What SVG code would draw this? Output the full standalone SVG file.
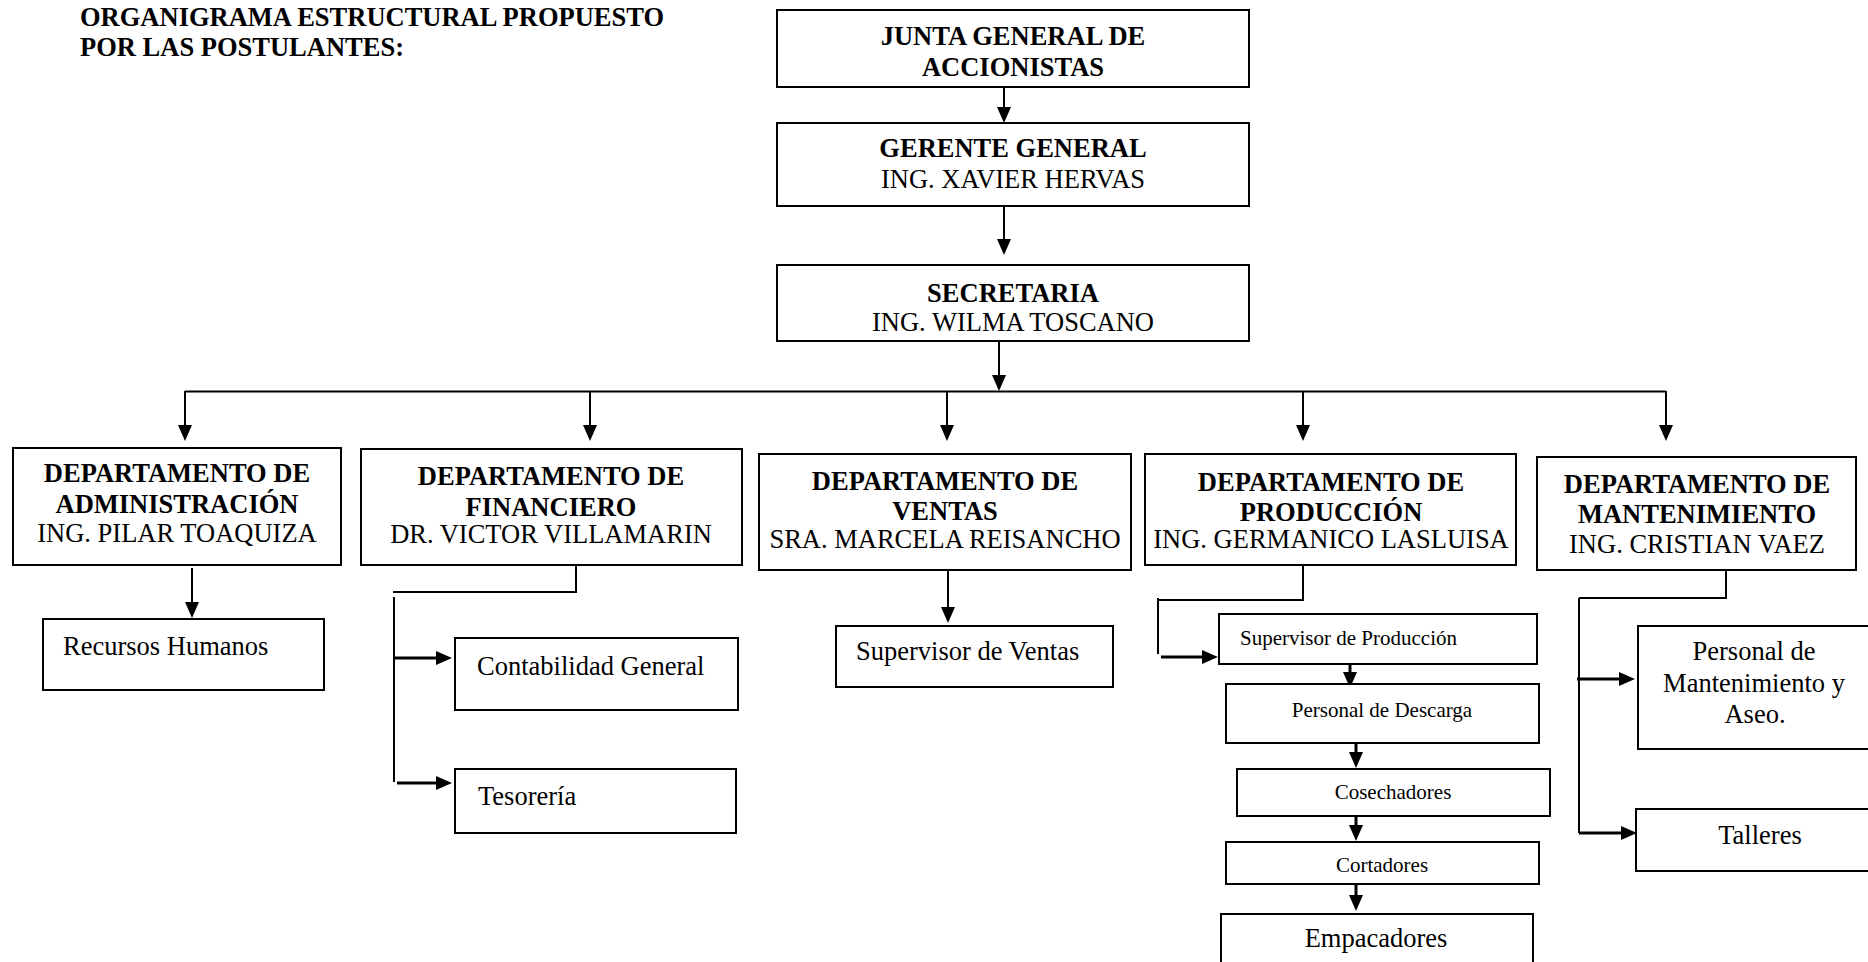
<svg xmlns="http://www.w3.org/2000/svg" width="1868" height="962" viewBox="0 0 1868 962">
<defs>
<style>
text{font-family:"Liberation Serif","Times New Roman",serif;fill:#000}
.b{font-weight:bold;font-size:26.5px}
.r{font-size:26.5px}
.s{font-size:21px}
.c{text-anchor:middle}
.box{fill:#fff;stroke:#000;stroke-width:2}
.ln{fill:none;stroke:#000;stroke-width:2}
.ar{fill:none;stroke:#000;stroke-width:2;marker-end:url(#ah)}
.ar3{fill:none;stroke:#000;stroke-width:3;marker-end:url(#ah)}
</style>
<marker id="ah" markerUnits="userSpaceOnUse" markerWidth="16" markerHeight="14" refX="0" refY="7" orient="auto">
<path d="M0,0 L16,7 L0,14 z" fill="#000"/>
</marker>
</defs>
<rect width="1868" height="962" fill="#fff"/>
<g id="title">
<text class="b" x="80" y="26">ORGANIGRAMA ESTRUCTURAL PROPUESTO</text>
<text class="b" x="80" y="56">POR LAS POSTULANTES:</text>
</g>
<g id="connectors">
<path class="ar" d="M1004 87 V107"/>
<path class="ar" d="M1004 206 V239"/>
<path class="ar" d="M999 341 V375"/>
<path class="ln" d="M185 391.5 H1666"/>
<path class="ar" d="M185 391 V425"/>
<path class="ar" d="M590 391 V425"/>
<path class="ar" d="M947 391 V425"/>
<path class="ar" d="M1303 391 V425"/>
<path class="ar" d="M1666 391 V425"/>
<path class="ar" d="M192 568 V602"/>
<path class="ln" d="M576 565 V592 H393"/>
<path class="ln" d="M394 597 V782"/>
<path class="ar3" d="M394 658 H436"/>
<path class="ar3" d="M397 783 H436"/>
<path class="ar" d="M948 570 V607"/>
<path class="ln" d="M1303 565 V600 H1158"/>
<path class="ln" d="M1158 598 V654"/>
<path class="ar3" d="M1161 657 H1202"/>
<path class="ar3" d="M1350 661 V672"/>
<path class="ar3" d="M1356 743 V752"/>
<path class="ar3" d="M1356 816 V825"/>
<path class="ar3" d="M1356 884 V895"/>
<path class="ln" d="M1726 570 V598 H1579"/>
<path class="ln" d="M1579 598 V833"/>
<path class="ar3" d="M1577 679 H1619"/>
<path class="ar3" d="M1579 833 H1621"/>
</g>
<g id="junta">
<rect class="box" x="777" y="10" width="472" height="77"/>
<text class="b c" x="1013" y="45">JUNTA GENERAL DE</text>
<text class="b c" x="1013" y="76">ACCIONISTAS</text>
</g>
<g id="gerente">
<rect class="box" x="777" y="123" width="472" height="83"/>
<text class="b c" x="1013" y="157">GERENTE GENERAL</text>
<text class="r c" x="1013" y="188">ING. XAVIER HERVAS</text>
</g>
<g id="secretaria">
<rect class="box" x="777" y="265" width="472" height="76"/>
<text class="b c" x="1013" y="302">SECRETARIA</text>
<text class="r c" x="1013" y="331">ING. WILMA TOSCANO</text>
</g>
<g id="dep-admin">
<rect class="box" x="13" y="448" width="328" height="117"/>
<text class="b c" x="177" y="482">DEPARTAMENTO DE</text>
<text class="b c" x="177" y="513">ADMINISTRACIÓN</text>
<text class="r c" x="177" y="542">ING. PILAR TOAQUIZA</text>
</g>
<g id="dep-financiero">
<rect class="box" x="361" y="449" width="381" height="116"/>
<text class="b c" x="551" y="485">DEPARTAMENTO DE</text>
<text class="b c" x="551" y="516">FINANCIERO</text>
<text class="r c" x="551" y="543">DR. VICTOR VILLAMARIN</text>
</g>
<g id="dep-ventas">
<rect class="box" x="759" y="454" width="372" height="116"/>
<text class="b c" x="945" y="490">DEPARTAMENTO DE</text>
<text class="b c" x="945" y="520">VENTAS</text>
<text class="r c" x="945" y="548">SRA. MARCELA REISANCHO</text>
</g>
<g id="dep-produccion">
<rect class="box" x="1145" y="454" width="371" height="111"/>
<text class="b c" x="1331" y="491">DEPARTAMENTO DE</text>
<text class="b c" x="1331" y="521">PRODUCCIÓN</text>
<text class="r c" x="1331" y="548">ING. GERMANICO LASLUISA</text>
</g>
<g id="dep-mantenimiento">
<rect class="box" x="1537" y="457" width="319" height="113"/>
<text class="b c" x="1697" y="493">DEPARTAMENTO DE</text>
<text class="b c" x="1697" y="523">MANTENIMIENTO</text>
<text class="r c" x="1697" y="553">ING. CRISTIAN VAEZ</text>
</g>
<g id="recursos-humanos">
<rect class="box" x="43" y="619" width="281" height="71"/>
<text class="r" x="63" y="655">Recursos Humanos</text>
</g>
<g id="contabilidad">
<rect class="box" x="455" y="638" width="283" height="72"/>
<text class="r" x="477" y="675">Contabilidad General</text>
</g>
<g id="tesoreria">
<rect class="box" x="455" y="769" width="281" height="64"/>
<text class="r" x="478" y="805">Tesorería</text>
</g>
<g id="supervisor-ventas">
<rect class="box" x="836" y="626" width="277" height="61"/>
<text class="r" x="856" y="660">Supervisor de Ventas</text>
</g>
<g id="supervisor-produccion">
<rect class="box" x="1219" y="614" width="318" height="50"/>
<text class="s" x="1240" y="645">Supervisor de Producción</text>
</g>
<g id="personal-descarga">
<rect class="box" x="1226" y="684" width="313" height="59"/>
<text class="s c" x="1382" y="717">Personal de Descarga</text>
</g>
<g id="cosechadores">
<rect class="box" x="1237" y="769" width="313" height="47"/>
<text class="s c" x="1393" y="799">Cosechadores</text>
</g>
<g id="cortadores">
<rect class="box" x="1226" y="842" width="313" height="42"/>
<text class="s c" x="1382" y="872">Cortadores</text>
</g>
<g id="empacadores">
<rect class="box" x="1221" y="914" width="312" height="60"/>
<text class="r c" x="1376" y="947">Empacadores</text>
</g>
<g id="personal-mantenimiento">
<rect class="box" x="1638" y="626" width="232" height="123"/>
<text class="r c" x="1754" y="660">Personal de</text>
<text class="r c" x="1754" y="692">Mantenimiento y</text>
<text class="r c" x="1755" y="723">Aseo.</text>
</g>
<g id="talleres">
<rect class="box" x="1636" y="809" width="234" height="62"/>
<text class="r c" x="1760" y="844">Talleres</text>
</g>
</svg>
